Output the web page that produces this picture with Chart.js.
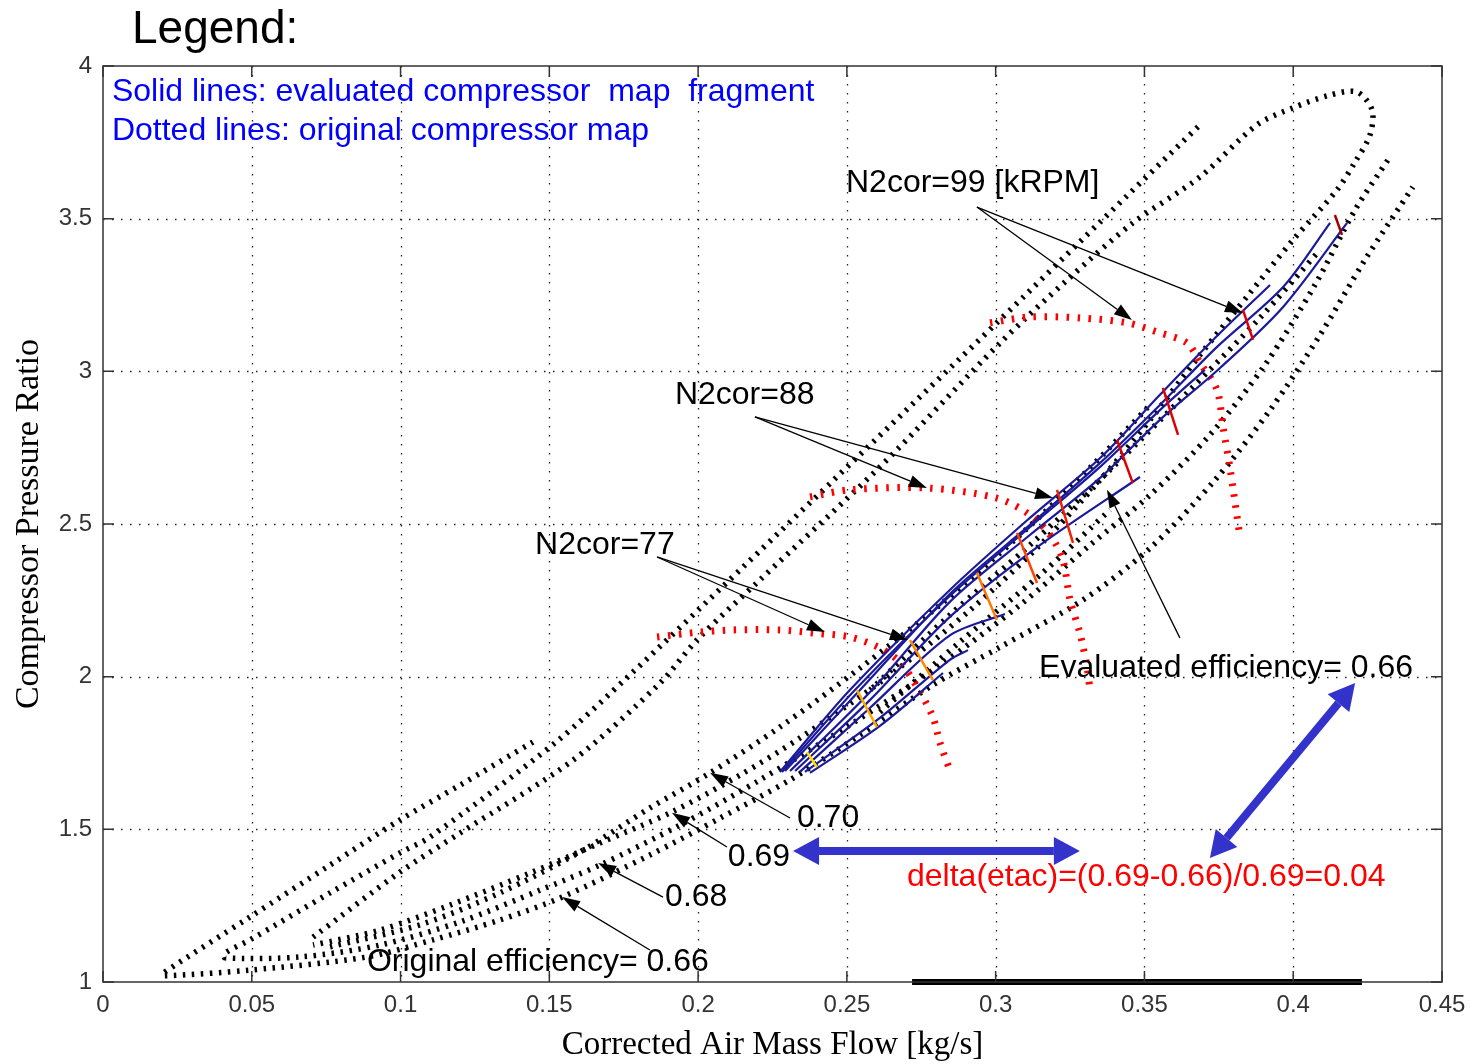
<!DOCTYPE html>
<html>
<head>
<meta charset="utf-8">
<script src="https://cdn.jsdelivr.net/npm/chart.js@4.4.0/dist/chart.umd.min.js"></script>
<style>
  html, body { margin: 0; padding: 0; background: #fff; }
</style>
</head>
<body>
<canvas id="compressorMap" width="1477" height="1064"></canvas>
<script>
// Axis ticks
const xTickValues = [0, 0.05, 0.1, 0.15, 0.2, 0.25, 0.3, 0.35, 0.4, 0.45];
const xTickLabels = ['0', '0.05', '0.1', '0.15', '0.2', '0.25', '0.3', '0.35', '0.4', '0.45'];
const yTickValues = [1, 1.5, 2, 2.5, 3, 3.5, 4];
const yTickLabels = ['1', '1.5', '2', '2.5', '3', '3.5', '4'];

// Original map: efficiency contours (dotted black)
const eff066Flow = [0.1445, 0.1200, 0.0998, 0.0763, 0.0494, 0.0202, 0.0202, 0.0494, 0.0887, 0.1109, 0.1334, 0.1543, 0.1838, 0.2074, 0.2309, 0.2544, 0.2789, 0.3015, 0.3293, 0.3519, 0.3737, 0.3922, 0.4090, 0.4241, 0.4402];
const eff066Ratio = [1.786, 1.645, 1.531, 1.383, 1.213, 1.029, 1.020, 1.039, 1.082, 1.138, 1.203, 1.278, 1.416, 1.537, 1.662, 1.809, 1.973, 2.097, 2.251, 2.421, 2.644, 2.873, 3.119, 3.365, 3.604];

const eff068Flow = [0.3680, 0.3351, 0.3004, 0.2578, 0.2151, 0.1771, 0.1519, 0.1099, 0.0998, 0.0763, 0.0494, 0.0410,
  0.0410, 0.0662, 0.0931, 0.1200, 0.1469, 0.1670, 0.1939, 0.2208, 0.2510, 0.2813, 0.3082, 0.3317, 0.3519, 0.3720, 0.3905, 0.4073, 0.4208, 0.4325];
const eff068Ratio = [3.801, 3.489, 3.159, 2.759, 2.359, 2.006, 1.783, 1.475, 1.423, 1.292, 1.138, 1.095,
  1.079, 1.082, 1.121, 1.197, 1.301, 1.383, 1.514, 1.662, 1.842, 2.038, 2.235, 2.431, 2.595, 2.792, 3.021, 3.283, 3.529, 3.702];

const eff069Flow = [0.0706, 0.0998, 0.1200, 0.1580, 0.1872, 0.1996, 0.2208, 0.2611, 0.3015, 0.3240, 0.3461, 0.3687, 0.3878, 0.3999, 0.4124, 0.4214, 0.4265, 0.4258, 0.4208, 0.4147,
  0.3999, 0.3855, 0.3687, 0.3519, 0.3351, 0.3149, 0.2914, 0.2645, 0.2342, 0.2141, 0.1912, 0.1670, 0.1435, 0.1166, 0.0931, 0.0706];
const eff069Ratio = [1.147, 1.360, 1.488, 1.727, 1.979, 2.120, 2.317, 2.687, 3.093, 3.299, 3.486, 3.637, 3.807, 3.863, 3.905, 3.915, 3.856, 3.774, 3.686, 3.594,
  3.430, 3.257, 3.054, 2.841, 2.644, 2.431, 2.218, 2.006, 1.799, 1.678, 1.557, 1.455, 1.357, 1.252, 1.170, 1.121];

const eff070Flow = [0.0763, 0.1065, 0.1334, 0.1603, 0.1838, 0.2040, 0.2275, 0.2544, 0.2813, 0.3082, 0.3317, 0.3519];
const eff070Ratio = [1.115, 1.187, 1.292, 1.426, 1.570, 1.685, 1.835, 2.028, 2.235, 2.464, 2.684, 2.890];

// Original map: speed lines inside the fragment (dotted black)
const origSpeedAFlow = [0.2578, 0.2846, 0.3115, 0.3384, 0.3653, 0.3888, 0.4090];
const origSpeedARatio = [1.956, 2.202, 2.431, 2.677, 2.939, 3.175, 3.398];
const origSpeedBFlow = [0.2611, 0.2880, 0.3149, 0.3384];
const origSpeedBRatio = [1.884, 2.114, 2.333, 2.546];

// Original map: N2cor speed lines (dotted red)
const speed77Flow = [0.1862, 0.2006, 0.2117, 0.2275, 0.2386, 0.2510, 0.2611, 0.2678, 0.2736, 0.2789, 0.2813, 0.2846];
const speed77Ratio = [2.130, 2.146, 2.153, 2.153, 2.143, 2.130, 2.094, 2.048, 1.966, 1.868, 1.783, 1.694];
const speed88Flow = [0.2376, 0.2510, 0.2769, 0.3004, 0.3115, 0.3183, 0.3226, 0.3250, 0.3283, 0.3307, 0.3317];
const speed88Ratio = [2.589, 2.612, 2.618, 2.585, 2.530, 2.464, 2.382, 2.251, 2.143, 2.032, 1.956];
const speed99Flow = [0.2981, 0.3115, 0.3283, 0.3441, 0.3542, 0.3643, 0.3687, 0.3744, 0.3764, 0.3787, 0.3821];
const speed99Ratio = [3.159, 3.178, 3.175, 3.159, 3.129, 3.093, 3.028, 2.939, 2.818, 2.687, 2.458];

// Evaluated map fragment (solid blue)
const eval1Flow = [0.2275, 0.2510, 0.2846, 0.3115, 0.3351, 0.3552, 0.3737, 0.3922];
const eval1Ratio = [1.688, 1.956, 2.284, 2.520, 2.716, 2.923, 3.109, 3.283];
const eval2Flow = [0.2292, 0.2544, 0.2846, 0.3115, 0.3351, 0.3552, 0.3744, 0.3966, 0.4124];
const eval2Ratio = [1.691, 1.956, 2.271, 2.497, 2.700, 2.890, 3.080, 3.276, 3.486];
const eval3Flow = [0.2309, 0.2578, 0.2846, 0.3115, 0.3351, 0.3552, 0.3754, 0.3966, 0.4181];
const eval3Ratio = [1.691, 1.950, 2.245, 2.464, 2.651, 2.841, 3.011, 3.211, 3.486];
const eval4Flow = [0.2326, 0.2578, 0.2846, 0.3149, 0.3485];
const eval4Ratio = [1.691, 1.924, 2.196, 2.431, 2.654];
const eval5Flow = [0.2342, 0.2578, 0.2846, 0.3031];
const eval5Ratio = [1.688, 1.898, 2.135, 2.205];
const eval6Flow = [0.2359, 0.2611, 0.2846, 0.2907];
const eval6Ratio = [1.688, 1.865, 2.055, 2.087];
const eval7Flow = [0.2376, 0.2611, 0.2823];
const eval7Ratio = [1.685, 1.839, 2.012];
const eval8Flow = [0.2282, 0.2527, 0.2846, 0.3115, 0.3351, 0.3552, 0.3703];
const eval8Ratio = [1.688, 1.956, 2.264, 2.490, 2.687, 2.873, 3.005];

// Evaluated efficiency markers (short coloured strokes across the fragment)
const markFlow = [[0.4140, 0.4164], [0.3831, 0.3865], [0.3562, 0.3613], [0.3408, 0.3461], [0.3206, 0.3260], [0.3072, 0.3139], [0.2937, 0.3004], [0.2712, 0.2789], [0.2534, 0.2601], [0.2366, 0.2399]];
const markRatio = [[3.512, 3.447], [3.201, 3.103], [2.946, 2.792], [2.775, 2.634], [2.612, 2.438], [2.471, 2.307], [2.340, 2.186], [2.120, 1.989], [1.956, 1.835], [1.753, 1.704]];
const markColor = ['#a00000', '#e00000', '#e00000', '#e00000', '#ee2200', '#ff4400', '#ff7700', '#ff8800', '#ffaa00', '#ffdd00'];

// Thick bar on the flow axis
const barFlow = [0.2719, 0.4231];
const barRatio = [1, 1];

// Text notes
const noteText = ['Solid lines: evaluated compressor  map  fragment', 'Dotted lines: original compressor map', 'N2cor=99 [kRPM]', 'N2cor=88', 'N2cor=77',
  'Evaluated efficiency= 0.66', '0.70', '0.69', '0.68', 'Original efficiency= 0.66', 'delta(etac)=(0.69-0.66)/0.69=0.04'];
const noteFlow = [0.0030, 0.0030, 0.2497, 0.1922, 0.1452, 0.3146, 0.2332, 0.2100, 0.1889, 0.0887, 0.2702];
const noteRatio = [3.915, 3.787, 3.617, 2.923, 2.431, 2.028, 1.537, 1.409, 1.278, 1.066, 1.344];
const noteColor = ['#0000ff', '#0000ff', '#000', '#000', '#000', '#000', '#000', '#000', '#000', '#000', '#ff0000'];

// Black pointer arrows: [fromFlow, fromRatio] -> [toFlow, toRatio]
const pointerFrom = [[0.2937, 3.538], [0.2937, 3.538], [0.2191, 2.851], [0.2191, 2.851], [0.1862, 2.392], [0.1862, 2.392], [0.3619, 2.127], [0.2309, 1.537], [0.2097, 1.442], [0.1882, 1.278], [0.1838, 1.105]];
const pointerTo = [[0.3831, 3.191], [0.3458, 3.168], [0.3193, 2.585], [0.2769, 2.618], [0.2705, 2.120], [0.2426, 2.146], [0.3374, 2.612], [0.2040, 1.685], [0.1912, 1.554], [0.1664, 1.390], [0.1543, 1.278]];

// Blue double arrows
const doubleArrowA = [[0.2319, 1.429], [0.3283, 1.429]];
const doubleArrowB = [[0.3720, 1.406], [0.4208, 1.979]];

const pts = (xs, ys) => xs.map((v, i) => ({ x: v, y: ys[i] }));

const datasets = [];
function addLine(xs, ys, color, width, dash, order, tension) {
  datasets.push({
    data: pts(xs, ys), showLine: true, borderColor: color, borderWidth: width,
    borderDash: dash, borderCapStyle: 'butt', pointRadius: 0, tension: tension || 0, order, fill: false,
  });
}

// dotted original map
[[eff066Flow, eff066Ratio], [eff068Flow, eff068Ratio], [eff069Flow, eff069Ratio], [eff070Flow, eff070Ratio],
 [origSpeedAFlow, origSpeedARatio], [origSpeedBFlow, origSpeedBRatio]].forEach(([xs, ys]) => addLine(xs, ys, '#000', 5.5, [2.5, 6.5], 4, 0.3));
[[speed77Flow, speed77Ratio], [speed88Flow, speed88Ratio], [speed99Flow, speed99Ratio]].forEach(([xs, ys]) => addLine(xs, ys, '#ff0000', 7, [2.5, 8.5], 3, 0.3));
// evaluated lines
[[eval1Flow, eval1Ratio], [eval2Flow, eval2Ratio], [eval3Flow, eval3Ratio], [eval4Flow, eval4Ratio],
 [eval5Flow, eval5Ratio], [eval6Flow, eval6Ratio], [eval7Flow, eval7Ratio], [eval8Flow, eval8Ratio]].forEach(([xs, ys]) => addLine(xs, ys, '#1a1a9a', 2.2, [], 2, 0.3));
markFlow.forEach((xs, i) => addLine(xs, markRatio[i], markColor[i], 2.5, [], 1, 0));
addLine(barFlow, barRatio, '#000', 6, [], 0, 0);
datasets[datasets.length - 1].clip = false;

const FONT = '"Liberation Sans", Arial, sans-serif';

function arrowHead(ctx, x1, y1, x2, y2, hl, hw) {
  const a = Math.atan2(y2 - y1, x2 - x1);
  const bx = x2 - hl * Math.cos(a), by = y2 - hl * Math.sin(a);
  ctx.beginPath();
  ctx.moveTo(x2, y2);
  ctx.lineTo(bx + hw / 2 * Math.sin(a), by - hw / 2 * Math.cos(a));
  ctx.lineTo(bx - hw / 2 * Math.sin(a), by + hw / 2 * Math.cos(a));
  ctx.closePath();
  ctx.fill();
  return [bx, by];
}

const mapDecor = {
  id: 'mapDecor',
  beforeDatasetsDraw(chart) {
    const { ctx, chartArea: a, scales: { x, y } } = chart;
    ctx.save();
    ctx.strokeStyle = '#222';
    ctx.lineWidth = 1.3;
    ctx.setLineDash([1.5, 7.5]);
    xTickValues.slice(1, -1).forEach(v => {
      const px = Math.round(x.getPixelForValue(v)) + 0.5;
      ctx.beginPath(); ctx.moveTo(px, a.top); ctx.lineTo(px, a.bottom); ctx.stroke();
    });
    yTickValues.slice(1, -1).forEach(v => {
      const py = Math.round(y.getPixelForValue(v)) + 0.5;
      ctx.beginPath(); ctx.moveTo(a.left, py); ctx.lineTo(a.right, py); ctx.stroke();
    });
    ctx.restore();
  },
  afterDraw(chart) {
    const { ctx, chartArea: a, scales: { x, y } } = chart;
    const X = v => x.getPixelForValue(v), Y = v => y.getPixelForValue(v);
    ctx.save();

    // box and inward ticks
    ctx.strokeStyle = '#333';
    ctx.lineWidth = 1.5;
    ctx.strokeRect(a.left, a.top, a.right - a.left, a.bottom - a.top);
    const tl = 11;
    xTickValues.forEach(v => {
      const px = X(v);
      ctx.beginPath();
      ctx.moveTo(px, a.bottom); ctx.lineTo(px, a.bottom - tl);
      ctx.moveTo(px, a.top); ctx.lineTo(px, a.top + tl);
      ctx.stroke();
    });
    yTickValues.forEach(v => {
      const py = Y(v);
      ctx.beginPath();
      ctx.moveTo(a.left, py); ctx.lineTo(a.left + tl, py);
      ctx.moveTo(a.right, py); ctx.lineTo(a.right - tl, py);
      ctx.stroke();
    });

    // black pointer arrows
    ctx.strokeStyle = '#000';
    ctx.fillStyle = '#000';
    ctx.lineWidth = 1.3;
    pointerFrom.forEach((f, i) => {
      const t = pointerTo[i];
      const x1 = X(f[0]), y1 = Y(f[1]), x2 = X(t[0]), y2 = Y(t[1]);
      const [bx, by] = arrowHead(ctx, x1, y1, x2, y2, 18, 12);
      ctx.beginPath(); ctx.moveTo(x1, y1); ctx.lineTo(bx, by); ctx.stroke();
    });

    // blue double arrows
    ctx.strokeStyle = '#3333cc';
    ctx.fillStyle = '#3333cc';
    ctx.lineWidth = 8;
    [doubleArrowA, doubleArrowB].forEach(([p, q]) => {
      const x1 = X(p[0]), y1 = Y(p[1]), x2 = X(q[0]), y2 = Y(q[1]);
      const [b2x, b2y] = arrowHead(ctx, x1, y1, x2, y2, 26, 28);
      const [b1x, b1y] = arrowHead(ctx, x2, y2, x1, y1, 26, 28);
      ctx.beginPath(); ctx.moveTo(b1x, b1y); ctx.lineTo(b2x, b2y); ctx.stroke();
    });

    // notes
    ctx.textBaseline = 'middle';
    ctx.textAlign = 'left';
    ctx.font = '32px ' + FONT;
    noteText.forEach((t, i) => {
      ctx.fillStyle = noteColor[i];
      ctx.fillText(t, X(noteFlow[i]), Y(noteRatio[i]));
    });

    // heading and axis titles
    ctx.fillStyle = '#000';
    ctx.font = '46px ' + FONT;
    ctx.fillText('Legend:', 132, 30);
    ctx.font = '33px "Liberation Serif", "Times New Roman", serif';
    ctx.textAlign = 'center';
    ctx.fillText('Corrected Air Mass Flow [kg/s]', (a.left + a.right) / 2, 1045);
    ctx.translate(29, (a.top + a.bottom) / 2);
    ctx.rotate(-Math.PI / 2);
    ctx.font = '34px "Liberation Serif", "Times New Roman", serif';
    ctx.fillText('Compressor Pressure Ratio', 0, 0);
    ctx.restore();
  }
};

new Chart(document.getElementById('compressorMap'), {
  type: 'scatter',
  data: { datasets },
  options: {
    responsive: false,
    animation: false,
    layout: { padding: { top: 66, right: 35, left: 0, bottom: 0 } },
    plugins: { legend: { display: false }, tooltip: { enabled: false } },
    scales: {
      x: {
        type: 'linear', min: 0, max: 0.45,
        afterBuildTicks: s => { s.ticks = xTickValues.map(v => ({ value: v })); },
        afterFit: s => { s.height = 82; },
        grid: { display: false, drawTicks: false },
        border: { display: false },
        ticks: {
          padding: 9, maxRotation: 0, autoSkip: false,
          color: '#333', font: { family: 'Liberation Sans', size: 24 },
          callback: (v, i) => xTickLabels[i],
        },
      },
      y: {
        type: 'linear', min: 1, max: 4,
        afterBuildTicks: s => { s.ticks = yTickValues.map(v => ({ value: v })); },
        afterFit: s => { s.width = 103; },
        grid: { display: false, drawTicks: false },
        border: { display: false },
        ticks: {
          padding: 11, autoSkip: false,
          color: '#333', font: { family: 'Liberation Sans', size: 24 },
          callback: (v, i) => yTickLabels[i],
        },
      },
    },
  },
  plugins: [mapDecor],
});
</script>
</body>
</html>
